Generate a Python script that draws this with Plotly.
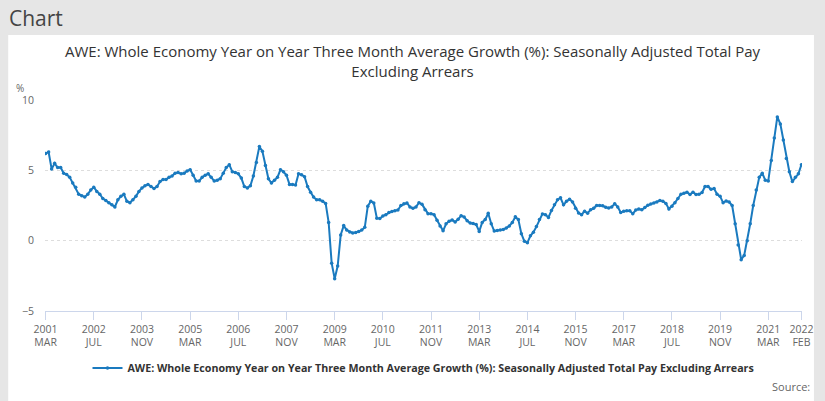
import plotly.graph_objects as go

MONTHS = ["JAN", "FEB", "MAR", "APR", "MAY", "JUN", "JUL", "AUG", "SEP", "OCT", "NOV", "DEC"]

# Monthly periods 2001 MAR .. 2022 FEB
periods = []
y, m = 2001, 2
while (y, m) <= (2022, 1):
    periods.append(f"{y} {MONTHS[m]}")
    m += 1
    if m == 12:
        m = 0
        y += 1

growth = [
    6.2, 6.3, 5.1, 5.5, 5.2, 5.2, 4.8, 4.7, 4.5, 4.1, 3.8, 3.3,
    3.2, 3.1, 3.3, 3.6, 3.8, 3.5, 3.3, 3.0, 2.85, 2.7, 2.55, 2.4,
    2.9, 3.15, 3.3, 2.8, 2.7, 2.9, 3.15, 3.5, 3.75, 3.9, 4.0, 3.85,
    3.7, 3.85, 4.2, 4.35, 4.35, 4.5, 4.6, 4.8, 4.85, 4.75, 4.8, 4.95,
    5.05, 4.65, 4.25, 4.25, 4.5, 4.65, 4.75, 4.5, 4.25, 4.3, 4.4, 4.8,
    5.2, 5.4, 4.9, 4.85, 4.75, 4.45, 3.85, 3.75, 3.9, 4.6, 5.55, 6.7,
    6.35, 5.35, 4.4, 4.1, 4.3, 4.5, 5.05, 4.9, 4.65, 4.0, 4.0, 3.95,
    4.75, 4.68, 4.55, 3.85, 3.45, 3.1, 2.9, 2.9, 2.8, 2.65, 1.3, -1.6,
    -2.7, -1.8, 0.4, 1.07, 0.75, 0.62, 0.55, 0.58, 0.65, 0.75, 0.95, 2.45,
    2.8, 2.68, 1.6, 1.58, 1.75, 1.85, 2.0, 2.08, 2.12, 2.18, 2.5, 2.62,
    2.68, 2.4, 2.3, 2.4, 2.7, 2.58, 2.2, 1.92, 1.92, 1.85, 1.45, 1.05,
    0.7, 1.2, 1.38, 1.47, 1.33, 1.52, 1.78, 1.68, 1.42, 1.25, 1.22, 1.15,
    0.66, 1.3, 1.5, 1.95, 1.2, 0.68, 0.72, 0.76, 0.8, 0.9, 1.05, 1.3,
    1.7, 1.5, 0.5, -0.05, -0.15, 0.35, 0.6, 1.0, 1.5, 1.9, 1.85, 1.65,
    2.15, 2.55, 2.9, 3.05, 2.55, 2.8, 2.95, 2.75, 2.3, 1.97, 1.85, 2.1,
    1.95, 2.2, 2.3, 2.5, 2.5, 2.48, 2.38, 2.33, 2.4, 2.62, 2.4, 2.0,
    2.1, 2.13, 2.13, 1.92, 2.18, 2.25, 2.2, 2.35, 2.52, 2.6, 2.68, 2.75,
    2.85, 2.8, 2.65, 2.25, 2.45, 2.7, 3.0, 3.3, 3.37, 3.45, 3.28, 3.45,
    3.28, 3.3, 3.42, 3.85, 3.85, 3.65, 3.7, 3.3, 3.15, 2.7, 2.82, 2.75,
    2.5, 1.2, -0.3, -1.35, -1.05, 0.0, 1.2, 2.5, 3.6, 4.5, 4.8, 4.3,
    4.25, 5.7, 7.3, 8.8, 8.3, 7.15, 5.85, 4.9, 4.2, 4.5, 4.75, 5.4,
]

tick_periods = ["2001 MAR", "2002 JUL", "2003 NOV", "2005 MAR", "2006 JUL", "2007 NOV",
                "2009 MAR", "2010 JUL", "2011 NOV", "2013 MAR", "2014 JUL", "2015 NOV",
                "2017 MAR", "2018 JUL", "2019 NOV", "2021 MAR", "2022 FEB"]
tick_text = [p.replace(" ", "<br>") for p in tick_periods]
y_ticks = [-5, 0, 5, 10]

series_name = ("AWE: Whole Economy Year on Year Three Month Average Growth (%): "
               "Seasonally Adjusted Total Pay Excluding Arrears")
title_text = ("AWE: Whole Economy Year on Year Three Month Average Growth (%): "
              "Seasonally Adjusted Total Pay<br>Excluding Arrears")

W, H = 825, 401
L, R, T, B = 45, 19, 100, 90
pw, ph = W - L - R, H - T - B

def px_x(x):
    return (x - L) / pw

def px_y(y):
    return (H - B - y) / ph

color = "#1a7abf"
fig = go.Figure()
fig.add_trace(go.Scatter(
    x=periods, y=growth, mode="lines+markers", name=series_name,
    line=dict(color=color, width=2),
    marker=dict(color=color, size=3.5),
))

fig.update_layout(
    width=W, height=H,
    margin=dict(l=L, r=R, t=T, b=B),
    paper_bgcolor="#e6e6e6",
    plot_bgcolor="white",
    font=dict(family="Open Sans", color="#666666"),
    showlegend=True,
    legend=dict(orientation="h", x=0.5, xanchor="center", y=px_y(368), yanchor="middle",
                font=dict(size=10.7, color="#333333", weight="bold"),
                itemwidth=30, bgcolor="rgba(0,0,0,0)"),
    shapes=[dict(type="rect", xref="paper", yref="paper",
                 x0=px_x(8), x1=px_x(818), y0=px_y(401), y1=px_y(35),
                 fillcolor="white", line=dict(width=0), layer="below")],
    annotations=[
        dict(text="Chart", xref="paper", yref="paper", x=px_x(7), y=px_y(18),
             xanchor="left", yanchor="middle", showarrow=False,
             font=dict(size=21, color="#444444", family="Open Sans")),
        dict(text=title_text, xref="paper", yref="paper", x=px_x(415), y=px_y(61),
             xanchor="center", yanchor="middle", showarrow=False,
             font=dict(size=15, color="#333333", family="Open Sans")),
        dict(text="%", xref="paper", yref="paper", x=px_x(26), y=px_y(88),
             xanchor="right", yanchor="middle", showarrow=False,
             font=dict(size=10, color="#666666")),
        dict(text="Source:", xref="paper", yref="paper", x=px_x(816), y=px_y(386),
             xanchor="right", yanchor="middle", showarrow=False,
             font=dict(size=11, color="#666666")),
    ],
)

fig.update_xaxes(
    type="category", range=[-0.2, len(periods) - 0.8],
    tickmode="array", tickvals=tick_periods, ticktext=tick_text,
    tickfont=dict(size=10.5, color="#666666"),
    showgrid=False, showline=True, linecolor="#ccd6eb", linewidth=1,
    ticks="outside", ticklen=8, tickcolor="#ccd6eb", zeroline=False,
)
fig.update_yaxes(
    range=[-5, 10], tickvals=y_ticks, tickfont=dict(size=10.5, color="#666666"),
    showgrid=True, gridcolor="#dddddd", griddash="dot", zeroline=False,
    showline=False, ticklabelstandoff=10,
)

fig.write_html("out.html")
